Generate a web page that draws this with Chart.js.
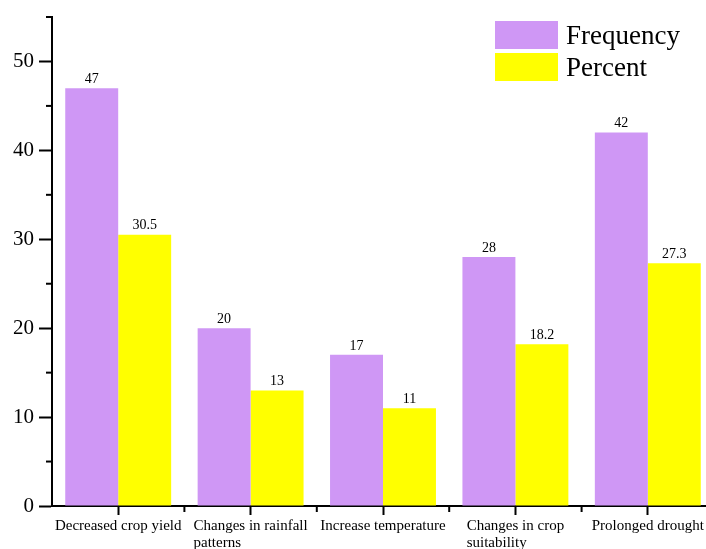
<!DOCTYPE html>
<html>
<head>
<meta charset="utf-8">
<script src="https://cdn.jsdelivr.net/npm/chart.js@4.4.1/dist/chart.umd.min.js"></script>
<style>
  html, body { margin: 0; padding: 0; background: #fff; overflow: hidden; }
  #wrap { position: relative; width: 714px; height: 560px; }
  #legend {
    position: absolute; left: 495px; top: 21px;
    font-family: "Liberation Serif", "Times New Roman", serif;
    font-size: 27px; color: #000;
  }
  .item { display: flex; align-items: center; height: 28px; margin-bottom: 4px; }
  .box { width: 63px; height: 28px; margin-right: 8px; }
</style>
</head>
<body>
<div id="wrap">
  <canvas id="chart" width="714" height="560"></canvas>
  <div id="legend"></div>
</div>
<script>
const categories = [
  ["Decreased crop yield"],
  ["Changes in rainfall", "patterns"],
  ["Increase temperature"],
  ["Changes in crop", "suitability"],
  ["Prolonged drought"]
];
const frequency = [47, 20, 17, 28, 42];
const percent = [30.5, 13, 11, 18.2, 27.3];
const seriesNames = ["Frequency", "Percent"];
const seriesColors = ["#cf97f5", "#ffff00"];

const serif = '"Liberation Serif", "Times New Roman", serif';

// small ticks between the labelled ones, and the category boundaries
const minorTicks = {
  id: "minorTicks",
  afterDraw(chart) {
    const ctx = chart.ctx;
    const x = chart.scales.x, y = chart.scales.y;
    ctx.save();
    ctx.strokeStyle = "#000";
    ctx.lineWidth = 2;
    y.ticks.forEach(t => {
      if (t.value % 10 !== 0) {
        const py = y.getPixelForValue(t.value);
        ctx.beginPath();
        ctx.moveTo(y.right - 6, py);
        ctx.lineTo(y.right, py);
        ctx.stroke();
      }
    });
    for (let i = 1; i <= categories.length; i++) {
      const px = x.getPixelForValue(i - 0.5);
      ctx.beginPath();
      ctx.moveTo(px, x.top);
      ctx.lineTo(px, x.top + 6);
      ctx.stroke();
    }
    ctx.restore();
  }
};

// x labels, lines left aligned inside a centred block
const xLabels = {
  id: "xLabels",
  afterDraw(chart) {
    const ctx = chart.ctx;
    const x = chart.scales.x;
    ctx.save();
    ctx.font = "15px " + serif;
    ctx.fillStyle = "#000";
    ctx.textBaseline = "top";
    ctx.textAlign = "left";
    categories.forEach((lines, i) => {
      const cx = x.getPixelForValue(i);
      const w = Math.max(...lines.map(l => ctx.measureText(l).width));
      lines.forEach((l, k) => ctx.fillText(l, cx - w / 2, x.top + 13 + k * 17));
    });
    ctx.restore();
  }
};

// value labels over the bars
const barValues = {
  id: "barValues",
  afterDatasetsDraw(chart) {
    const ctx = chart.ctx;
    ctx.save();
    ctx.font = "14px " + serif;
    ctx.fillStyle = "#000";
    ctx.textAlign = "center";
    ctx.textBaseline = "bottom";
    chart.data.datasets.forEach((ds, di) => {
      chart.getDatasetMeta(di).data.forEach((bar, i) => {
        ctx.fillText(String(ds.data[i]), bar.x, bar.y - 2);
      });
    });
    ctx.restore();
  }
};

new Chart(document.getElementById("chart"), {
  type: "bar",
  data: {
    labels: categories.map(c => c.join(" ")),
    datasets: [
      { label: seriesNames[0], data: frequency, backgroundColor: seriesColors[0] },
      { label: seriesNames[1], data: percent, backgroundColor: seriesColors[1] }
    ]
  },
  options: {
    responsive: false,
    animation: false,
    layout: { padding: { top: 17, right: 0, left: 0, bottom: 0 } },
    datasets: { bar: { categoryPercentage: 0.8, barPercentage: 1.0 } },
    plugins: { legend: { display: false }, tooltip: { enabled: false } },
    scales: {
      x: {
        offset: true,
        grid: { offset: false, drawOnChartArea: false, tickLength: 9, tickColor: "#000", tickWidth: 2 },
        border: { display: true, color: "#000", width: 2 },
        ticks: { display: false },
        afterFit(scale) { scale.height = 560 - 506; }
      },
      y: {
        min: 0,
        max: 55,
        ticks: {
          stepSize: 5,
          autoSkip: false,
          padding: 5,
          color: "#000",
          font: { family: serif, size: 21 },
          callback: v => (v % 10 === 0 ? v : "")
        },
        grid: {
          drawOnChartArea: false,
          tickLength: 13,
          tickWidth: 2,
          tickColor: c => (c.tick && c.tick.value % 10 === 0 ? "#000" : "rgba(0,0,0,0)")
        },
        border: { display: true, color: "#000", width: 2 },
        afterFit(scale) {
          scale.width = 52;
          scale.paddingTop = 0;
          scale.paddingBottom = 0;
        }
      }
    }
  },
  plugins: [minorTicks, xLabels, barValues]
});

const legend = document.getElementById("legend");
seriesNames.forEach((name, i) => {
  const item = document.createElement("div");
  item.className = "item";
  item.innerHTML = `<span class="box" style="background:${seriesColors[i]}"></span><span>${name}</span>`;
  legend.appendChild(item);
});
</script>
</body>
</html>
